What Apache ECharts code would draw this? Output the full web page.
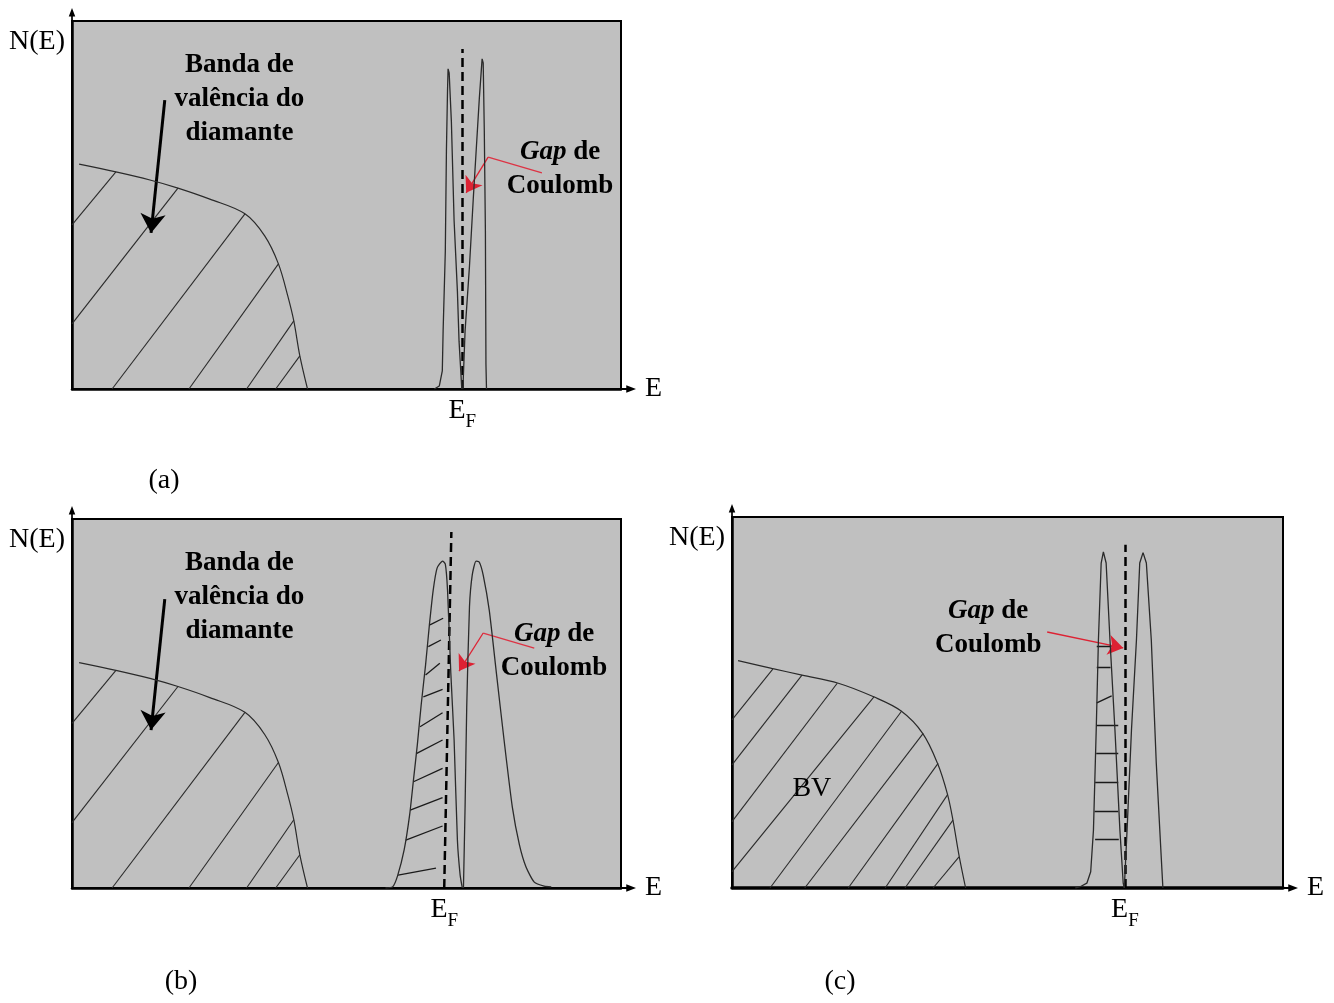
<!DOCTYPE html>
<html>
<head>
<meta charset="utf-8">
<script src="https://cdn.jsdelivr.net/npm/echarts@6/dist/echarts.min.js"></script>
<style>
  html, body { margin: 0; padding: 0; background: #fff; }
  #chart { width: 1334px; height: 1003px; }
</style>
</head>
<body>
<div id="chart"></div>
<script>
// energy (x) and N(E) (y) in arbitrary units, 0..100 in every panel

// valence band of diamond, panels (a) and (b)
var bandAB = [[1.3,61.1],[8.0,59.0],[14.2,56.8],[19.3,54.6],[25.1,51.6],[31.5,47.6],[35.1,41.6],[37.6,34.0],[39.3,25.3],[40.4,18.5],[41.5,9.0],[42.9,0]];
var hatchAB = [
  [[0,44.6],[8.0,59.0]],
  [[0,17.7],[19.3,54.6]],
  [[7.3,0],[31.5,47.6]],
  [[21.3,0],[37.6,34.0]],
  [[31.8,0],[40.4,18.5]],
  [[37.1,0],[41.5,9.0]]
];
// valence band, panel (c)
var bandC = [[1.1,61.3],[7.2,59.2],[12.7,57.4],[19.3,55.2],[25.6,51.6],[30.7,47.7],[34.6,41.7],[37.3,33.6],[39.1,25.3],[40.1,18.3],[41.2,8.8],[42.4,0]];
var hatchC = [
  [[0,45.3],[7.4,59.0]],
  [[0,33.2],[12.7,57.4]],
  [[0,17.9],[19.1,55.2]],
  [[0,4.4],[25.8,51.6]],
  [[6.9,0],[30.8,47.7]],
  [[13.2,0],[34.7,41.7]],
  [[21.1,0],[37.4,33.6]],
  [[27.8,0],[39.1,25.1]],
  [[31.4,0],[40.1,18.3]],
  [[36.5,0],[41.2,8.4]]
];

// impurity band peaks around E_F
var peakA1 = [[66.0,0],[66.9,0.8],[67.45,4.9],[67.6,15.8],[68.0,37.5],[68.2,64.7],[68.4,81.0],[68.5,87.0],[68.7,85.9],[69.1,72.8],[69.6,45.7],[70.2,26.6],[70.5,13.0],[71.0,0]];
var peakA2 = [[71.2,0],[71.6,15.8],[72.4,33.4],[73.1,51.9],[74.2,79.1],[74.7,89.7],[74.9,88.6],[75.1,70.1],[75.3,42.9],[75.4,6.8],[75.5,0]];
var dashA = [[71.1,0],[71.1,92.4]];

var peakB1 = [[57.1,0],[58.4,0.3],[59.3,3.3],[60.5,10.3],[61.5,19.8],[62.2,29.3],[62.9,38.8],[63.6,49.6],[64.4,60.4],[65.1,71.3],[65.8,80.8],[66.5,86.7],[67.5,88.6],[68.0,87.8],[68.4,80.8],[69.0,58.3],[69.6,40.1],[70.2,13.0],[70.7,3.5],[71.1,0]];
var peakB2 = [[71.3,0],[71.6,22.0],[71.9,49.1],[72.4,76.2],[72.9,84.8],[73.6,88.6],[74.2,88.3],[74.9,84.8],[76.0,75.3],[77.3,58.3],[78.7,40.1],[80.2,22.0],[81.5,11.7],[82.7,5.7],[84.2,1.6],[86.0,0.5],[87.3,0.3]];
var hatchB = [
  [[59.4,3.5],[66.3,5.4]],
  [[60.8,13.0],[67.5,16.8]],
  [[61.6,21.1],[67.5,24.5]],
  [[62.2,28.8],[67.5,32.4]],
  [[62.8,36.5],[67.5,40.1]],
  [[63.4,43.7],[67.5,47.5]],
  [[64.0,51.8],[67.5,53.8]],
  [[64.4,57.7],[67.0,60.9]],
  [[64.9,65.4],[67.2,67.2]],
  [[65.2,71.3],[67.6,73.1]]
];
var dashB = [[67.8,0],[69.1,96.5]];

var peakC1 = [[62.3,0],[63.2,0.35],[64.4,1.3],[65.1,4.4],[65.6,15.6],[66.1,42.6],[66.5,66.8],[67.0,87.6],[67.4,90.6],[67.9,87.6],[68.6,66.8],[69.5,42.6],[70.4,15.6],[71.0,1.3],[71.2,0]];
var peakC2 = [[71.2,0],[71.7,15.6],[72.5,42.6],[73.4,66.8],[74.0,87.6],[74.6,90.4],[75.2,87.6],[76.1,66.8],[77.0,33.7],[77.8,11.1],[78.2,0]];
var hatchC2 = [
  [[66.2,65.2],[68.9,65.2]],
  [[66.2,59.5],[68.7,59.5]],
  [[66.2,49.9],[68.9,51.8]],
  [[66.1,43.9],[70.1,43.9]],
  [[66.1,36.3],[70.1,36.3]],
  [[65.9,28.5],[70.1,28.5]],
  [[65.8,20.8],[70.1,20.8]],
  [[65.9,13.1],[70.2,13.1]]
];
var dashC = [[71.3,0],[71.3,92.5]];

// annotation arrows
var arrowA = [[16.9,78.5],[14.4,42.4]];
var arrowB = [[16.9,78.3],[14.4,42.8]];
var redA = [[85.6,58.7],[75.8,63.0],[71.8,53.3]];
var redB = [[84.2,65.0],[74.9,69.1],[70.5,58.8]];
var redC = [[57.2,69.0],[71.0,64.7]];

// texts [x, y, text]
var notesA = [[30.5,78.8,'Banda de\nvalência do\ndiamante'],[88.9,59.8,'{g|Gap} de\nCoulomb']];
var notesB = [[30.5,78.9,'Banda de\nvalência do\ndiamante'],[87.8,64.2,'{g|Gap} de\nCoulomb']];
var notesC = [[46.5,70.1,'{g|Gap} de\nCoulomb'],[14.5,26.7,'{r|BV}']];

var SERIF = '"Liberation Serif", "Times New Roman", serif';
var ARROW = 'path://M5,0 L10,13 L6.3,13 L6.3,20 L3.7,20 L3.7,13 L0,13 Z';

var panels = [
  {grid: {left: 72, top: 21, width: 549, height: 368}, band: bandAB, hatch: hatchAB, peaks: [peakA1, peakA2], smooth: false,
   peakHatch: [], dash: dashA, arrow: arrowA, red: redA, notes: notesA, tag: '(a)', tagPos: [164, 481], axisW: 2.5},
  {grid: {left: 72, top: 519, width: 549, height: 369}, band: bandAB, hatch: hatchAB, peaks: [peakB1, peakB2], smooth: 0.2,
   peakHatch: hatchB, dash: dashB, arrow: arrowB, red: redB, notes: notesB, tag: '(b)', tagPos: [181, 982], axisW: 2.5},
  {grid: {left: 732, top: 517, width: 551, height: 371}, band: bandC, hatch: hatchC, peaks: [peakC1, peakC2], smooth: false,
   peakHatch: hatchC2, dash: dashC, arrow: null, red: redC, notes: notesC, tag: '(c)', tagPos: [840, 982], axisW: 3.5}
];

var grids = [], xAxes = [], yAxes = [], series = [], texts = [];

function segs(list) {
  return list.map(function (s) { return {coords: s}; });
}

panels.forEach(function (p, i) {
  grids.push(Object.assign({show: true, backgroundColor: '#c0c0c0', borderColor: '#000', borderWidth: 2}, p.grid));

  xAxes.push({
    type: 'value', gridIndex: i, min: 0, max: 100,
    axisLine: {show: true, lineStyle: {color: '#000', width: p.axisW}, symbol: ['none', ARROW], symbolSize: [8, 15], symbolOffset: [0, 7.5]},
    axisTick: {show: false}, splitLine: {show: false},
    axisLabel: {
      customValues: [p.dash[0][0]], margin: 8,
      formatter: function () { return '{e|E}{f|F}'; },
      rich: {
        e: {fontFamily: SERIF, fontSize: 28, color: '#000', padding: [0, 0, 7, 0], verticalAlign: 'bottom'},
        f: {fontFamily: SERIF, fontSize: 19, color: '#000', verticalAlign: 'bottom'}
      }
    },
    name: 'E', nameLocation: 'end', nameGap: 24,
    nameTextStyle: {fontFamily: SERIF, fontSize: 28, color: '#000', padding: [0, 0, 10, 0]}
  });

  yAxes.push({
    type: 'value', gridIndex: i, min: 0, max: 100,
    axisLine: {show: true, lineStyle: {color: '#000', width: 2.5}, symbol: ['none', ARROW], symbolSize: [7, 13], symbolOffset: [0, 6.5]},
    axisTick: {show: false}, splitLine: {show: false}, axisLabel: {show: false},
    name: 'N(E)', nameLocation: 'end', nameGap: -21,
    nameTextStyle: {fontFamily: SERIF, fontSize: 28, color: '#000', align: 'right', verticalAlign: 'middle', padding: [0, 7, 0, 0]}
  });

  var ax = {xAxisIndex: i, yAxisIndex: i};

  // valence band outline + hatching
  series.push(Object.assign({type: 'line', data: p.band, smooth: 0.35, showSymbol: false, silent: true,
    lineStyle: {color: '#2a2a2a', width: 1.2}}, ax));
  series.push(Object.assign({type: 'lines', coordinateSystem: 'cartesian2d', data: segs(p.hatch), silent: true,
    lineStyle: {color: '#2a2a2a', width: 1.1, opacity: 1}}, ax));

  // two peaks of the impurity band
  p.peaks.forEach(function (pk) {
    series.push(Object.assign({type: 'line', data: pk, smooth: p.smooth, showSymbol: false, silent: true,
      lineStyle: {color: '#2a2a2a', width: 1.3}}, ax));
  });
  if (p.peakHatch.length) {
    series.push(Object.assign({type: 'lines', coordinateSystem: 'cartesian2d', data: segs(p.peakHatch), silent: true,
      lineStyle: {color: '#1a1a1a', width: 1.3, opacity: 1}}, ax));
  }

  // Fermi level
  series.push(Object.assign({type: 'lines', coordinateSystem: 'cartesian2d', data: segs([p.dash]), silent: true,
    lineStyle: {color: '#000', width: 2.5, type: [9, 5], opacity: 1}}, ax));

  // black arrow to the band
  if (p.arrow) {
    series.push(Object.assign({type: 'lines', coordinateSystem: 'cartesian2d', data: segs([p.arrow]), silent: true,
      symbol: ['none', 'arrow'], symbolSize: [0, 19],
      lineStyle: {color: '#000', width: 3, opacity: 1}}, ax));
  }

  // red arrow to the Coulomb gap
  var redSegs = [];
  for (var k = 0; k < p.red.length - 1; k++) redSegs.push([p.red[k], p.red[k + 1]]);
  if (redSegs.length > 1) {
    series.push(Object.assign({type: 'lines', coordinateSystem: 'cartesian2d', data: segs(redSegs.slice(0, -1)), silent: true,
      lineStyle: {color: '#dd3344', width: 1.3, opacity: 1}}, ax));
  }
  series.push(Object.assign({type: 'lines', coordinateSystem: 'cartesian2d', data: segs(redSegs.slice(-1)), silent: true,
    symbol: ['none', 'arrow'], symbolSize: [0, 15],
    lineStyle: {color: '#dd2233', width: 1.3, opacity: 1}}, ax));

  // texts
  series.push(Object.assign({type: 'scatter', data: p.notes, symbolSize: 0, silent: true,
    itemStyle: {opacity: 1},
    label: {
      show: true, position: 'inside', formatter: function (d) { return d.value[2]; },
      fontFamily: SERIF, fontWeight: 'bold', fontSize: 27, lineHeight: 34, color: '#000', align: 'center',
      opacity: 1, textBorderWidth: 0, textShadowBlur: 0,
      rich: {
        g: {fontFamily: SERIF, fontWeight: 'bold', fontStyle: 'italic', fontSize: 27, lineHeight: 34, color: '#000', textBorderWidth: 0},
        r: {fontFamily: SERIF, fontWeight: 'normal', fontSize: 28, lineHeight: 34, color: '#000', textBorderWidth: 0}
      }
    }}, ax));

  texts.push({type: 'text', x: p.tagPos[0], y: p.tagPos[1],
    style: {text: p.tag, font: '28px ' + SERIF, fill: '#000', align: 'center', verticalAlign: 'middle'}});
});

var chart = echarts.init(document.getElementById('chart'));
chart.setOption({
  backgroundColor: '#fff',
  animation: false,
  grid: grids,
  xAxis: xAxes,
  yAxis: yAxes,
  series: series,
  graphic: texts
});
</script>
</body>
</html>
